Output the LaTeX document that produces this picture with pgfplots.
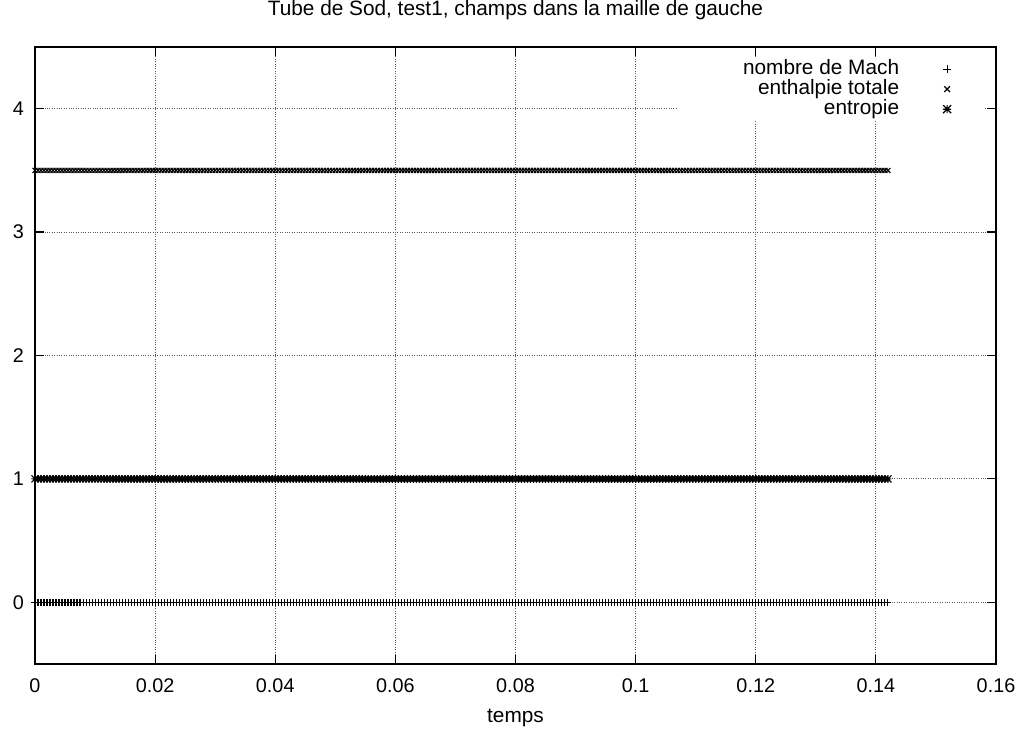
\documentclass[border=0pt]{standalone}
\usepackage{pgfplots}
\pgfplotsset{compat=1.18}
\usepackage{pgfplotstable}
\usepackage{fontspec}
\setmainfont{Liberation Sans}
\pgfdeclareplotmark{gpstar}{%
  \pgfpathmoveto{\pgfqpoint{-\pgfplotmarksize}{0pt}}\pgfpathlineto{\pgfqpoint{\pgfplotmarksize}{0pt}}%
  \pgfpathmoveto{\pgfqpoint{0pt}{-\pgfplotmarksize}}\pgfpathlineto{\pgfqpoint{0pt}{\pgfplotmarksize}}%
  \pgfpathmoveto{\pgfqpoint{-\pgfplotmarksize}{-\pgfplotmarksize}}\pgfpathlineto{\pgfqpoint{\pgfplotmarksize}{\pgfplotmarksize}}%
  \pgfpathmoveto{\pgfqpoint{-\pgfplotmarksize}{\pgfplotmarksize}}\pgfpathlineto{\pgfqpoint{\pgfplotmarksize}{-\pgfplotmarksize}}%
  \pgfusepathqstroke}
\pgfplotstableread[row sep=\\]{
t m h s\\
0.0000 0 3.5 1\\ 0.0005 0 3.5 1\\ 0.0010 0 3.5 1\\ 0.0015 0 3.5 1\\ 0.0020 0 3.5 1\\ 0.0025 0 3.5 1\\ 0.0030 0 3.5 1\\ 0.0035 0 3.5 1\\ 0.0040 0 3.5 1\\ 0.0045 0 3.5 1\\
0.0050 0 3.5 1\\ 0.0055 0 3.5 1\\ 0.0060 0 3.5 1\\ 0.0065 0 3.5 1\\ 0.0070 0 3.5 1\\ 0.0075 0 3.5 1\\ 0.0080 0 3.5 1\\ 0.0085 0 3.5 1\\ 0.0090 0 3.5 1\\ 0.0095 0 3.5 1\\
0.0100 0 3.5 1\\ 0.0105 0 3.5 1\\ 0.0110 0 3.5 1\\ 0.0115 0 3.5 1\\ 0.0120 0 3.5 1\\ 0.0125 0 3.5 1\\ 0.0130 0 3.5 1\\ 0.0135 0 3.5 1\\ 0.0140 0 3.5 1\\ 0.0145 0 3.5 1\\
0.0150 0 3.5 1\\ 0.0155 0 3.5 1\\ 0.0160 0 3.5 1\\ 0.0165 0 3.5 1\\ 0.0170 0 3.5 1\\ 0.0175 0 3.5 1\\ 0.0180 0 3.5 1\\ 0.0185 0 3.5 1\\ 0.0190 0 3.5 1\\ 0.0195 0 3.5 1\\
0.0200 0 3.5 1\\ 0.0205 0 3.5 1\\ 0.0210 0 3.5 1\\ 0.0215 0 3.5 1\\ 0.0220 0 3.5 1\\ 0.0225 0 3.5 1\\ 0.0230 0 3.5 1\\ 0.0235 0 3.5 1\\ 0.0240 0 3.5 1\\ 0.0245 0 3.5 1\\
0.0250 0 3.5 1\\ 0.0255 0 3.5 1\\ 0.0260 0 3.5 1\\ 0.0265 0 3.5 1\\ 0.0270 0 3.5 1\\ 0.0275 0 3.5 1\\ 0.0280 0 3.5 1\\ 0.0285 0 3.5 1\\ 0.0290 0 3.5 1\\ 0.0295 0 3.5 1\\
0.0300 0 3.5 1\\ 0.0305 0 3.5 1\\ 0.0310 0 3.5 1\\ 0.0315 0 3.5 1\\ 0.0320 0 3.5 1\\ 0.0325 0 3.5 1\\ 0.0330 0 3.5 1\\ 0.0335 0 3.5 1\\ 0.0340 0 3.5 1\\ 0.0345 0 3.5 1\\
0.0350 0 3.5 1\\ 0.0355 0 3.5 1\\ 0.0360 0 3.5 1\\ 0.0365 0 3.5 1\\ 0.0370 0 3.5 1\\ 0.0375 0 3.5 1\\ 0.0380 0 3.5 1\\ 0.0385 0 3.5 1\\ 0.0390 0 3.5 1\\ 0.0395 0 3.5 1\\
0.0400 0 3.5 1\\ 0.0405 0 3.5 1\\ 0.0410 0 3.5 1\\ 0.0415 0 3.5 1\\ 0.0420 0 3.5 1\\ 0.0425 0 3.5 1\\ 0.0430 0 3.5 1\\ 0.0435 0 3.5 1\\ 0.0440 0 3.5 1\\ 0.0445 0 3.5 1\\
0.0450 0 3.5 1\\ 0.0455 0 3.5 1\\ 0.0460 0 3.5 1\\ 0.0465 0 3.5 1\\ 0.0470 0 3.5 1\\ 0.0475 0 3.5 1\\ 0.0480 0 3.5 1\\ 0.0485 0 3.5 1\\ 0.0490 0 3.5 1\\ 0.0495 0 3.5 1\\
0.0500 0 3.5 1\\ 0.0505 0 3.5 1\\ 0.0510 0 3.5 1\\ 0.0515 0 3.5 1\\ 0.0520 0 3.5 1\\ 0.0525 0 3.5 1\\ 0.0530 0 3.5 1\\ 0.0535 0 3.5 1\\ 0.0540 0 3.5 1\\ 0.0545 0 3.5 1\\
0.0550 0 3.5 1\\ 0.0555 0 3.5 1\\ 0.0560 0 3.5 1\\ 0.0565 0 3.5 1\\ 0.0570 0 3.5 1\\ 0.0575 0 3.5 1\\ 0.0580 0 3.5 1\\ 0.0585 0 3.5 1\\ 0.0590 0 3.5 1\\ 0.0595 0 3.5 1\\
0.0600 0 3.5 1\\ 0.0605 0 3.5 1\\ 0.0610 0 3.5 1\\ 0.0615 0 3.5 1\\ 0.0620 0 3.5 1\\ 0.0625 0 3.5 1\\ 0.0630 0 3.5 1\\ 0.0635 0 3.5 1\\ 0.0640 0 3.5 1\\ 0.0645 0 3.5 1\\
0.0650 0 3.5 1\\ 0.0655 0 3.5 1\\ 0.0660 0 3.5 1\\ 0.0665 0 3.5 1\\ 0.0670 0 3.5 1\\ 0.0675 0 3.5 1\\ 0.0680 0 3.5 1\\ 0.0685 0 3.5 1\\ 0.0690 0 3.5 1\\ 0.0695 0 3.5 1\\
0.0700 0 3.5 1\\ 0.0705 0 3.5 1\\ 0.0710 0 3.5 1\\ 0.0715 0 3.5 1\\ 0.0720 0 3.5 1\\ 0.0725 0 3.5 1\\ 0.0730 0 3.5 1\\ 0.0735 0 3.5 1\\ 0.0740 0 3.5 1\\ 0.0745 0 3.5 1\\
0.0750 0 3.5 1\\ 0.0755 0 3.5 1\\ 0.0760 0 3.5 1\\ 0.0765 0 3.5 1\\ 0.0770 0 3.5 1\\ 0.0775 0 3.5 1\\ 0.0780 0 3.5 1\\ 0.0785 0 3.5 1\\ 0.0790 0 3.5 1\\ 0.0795 0 3.5 1\\
0.0800 0 3.5 1\\ 0.0805 0 3.5 1\\ 0.0810 0 3.5 1\\ 0.0815 0 3.5 1\\ 0.0820 0 3.5 1\\ 0.0825 0 3.5 1\\ 0.0830 0 3.5 1\\ 0.0835 0 3.5 1\\ 0.0840 0 3.5 1\\ 0.0845 0 3.5 1\\
0.0850 0 3.5 1\\ 0.0855 0 3.5 1\\ 0.0860 0 3.5 1\\ 0.0865 0 3.5 1\\ 0.0870 0 3.5 1\\ 0.0875 0 3.5 1\\ 0.0880 0 3.5 1\\ 0.0885 0 3.5 1\\ 0.0890 0 3.5 1\\ 0.0895 0 3.5 1\\
0.0900 0 3.5 1\\ 0.0905 0 3.5 1\\ 0.0910 0 3.5 1\\ 0.0915 0 3.5 1\\ 0.0920 0 3.5 1\\ 0.0925 0 3.5 1\\ 0.0930 0 3.5 1\\ 0.0935 0 3.5 1\\ 0.0940 0 3.5 1\\ 0.0945 0 3.5 1\\
0.0950 0 3.5 1\\ 0.0955 0 3.5 1\\ 0.0960 0 3.5 1\\ 0.0965 0 3.5 1\\ 0.0970 0 3.5 1\\ 0.0975 0 3.5 1\\ 0.0980 0 3.5 1\\ 0.0985 0 3.5 1\\ 0.0990 0 3.5 1\\ 0.0995 0 3.5 1\\
0.1000 0 3.5 1\\ 0.1005 0 3.5 1\\ 0.1010 0 3.5 1\\ 0.1015 0 3.5 1\\ 0.1020 0 3.5 1\\ 0.1025 0 3.5 1\\ 0.1030 0 3.5 1\\ 0.1035 0 3.5 1\\ 0.1040 0 3.5 1\\ 0.1045 0 3.5 1\\
0.1050 0 3.5 1\\ 0.1055 0 3.5 1\\ 0.1060 0 3.5 1\\ 0.1065 0 3.5 1\\ 0.1070 0 3.5 1\\ 0.1075 0 3.5 1\\ 0.1080 0 3.5 1\\ 0.1085 0 3.5 1\\ 0.1090 0 3.5 1\\ 0.1095 0 3.5 1\\
0.1100 0 3.5 1\\ 0.1105 0 3.5 1\\ 0.1110 0 3.5 1\\ 0.1115 0 3.5 1\\ 0.1120 0 3.5 1\\ 0.1125 0 3.5 1\\ 0.1130 0 3.5 1\\ 0.1135 0 3.5 1\\ 0.1140 0 3.5 1\\ 0.1145 0 3.5 1\\
0.1150 0 3.5 1\\ 0.1155 0 3.5 1\\ 0.1160 0 3.5 1\\ 0.1165 0 3.5 1\\ 0.1170 0 3.5 1\\ 0.1175 0 3.5 1\\ 0.1180 0 3.5 1\\ 0.1185 0 3.5 1\\ 0.1190 0 3.5 1\\ 0.1195 0 3.5 1\\
0.1200 0 3.5 1\\ 0.1205 0 3.5 1\\ 0.1210 0 3.5 1\\ 0.1215 0 3.5 1\\ 0.1220 0 3.5 1\\ 0.1225 0 3.5 1\\ 0.1230 0 3.5 1\\ 0.1235 0 3.5 1\\ 0.1240 0 3.5 1\\ 0.1245 0 3.5 1\\
0.1250 0 3.5 1\\ 0.1255 0 3.5 1\\ 0.1260 0 3.5 1\\ 0.1265 0 3.5 1\\ 0.1270 0 3.5 1\\ 0.1275 0 3.5 1\\ 0.1280 0 3.5 1\\ 0.1285 0 3.5 1\\ 0.1290 0 3.5 1\\ 0.1295 0 3.5 1\\
0.1300 0 3.5 1\\ 0.1305 0 3.5 1\\ 0.1310 0 3.5 1\\ 0.1315 0 3.5 1\\ 0.1320 0 3.5 1\\ 0.1325 0 3.5 1\\ 0.1330 0 3.5 1\\ 0.1335 0 3.5 1\\ 0.1340 0 3.5 1\\ 0.1345 0 3.5 1\\
0.1350 0 3.5 1\\ 0.1355 0 3.5 1\\ 0.1360 0 3.5 1\\ 0.1365 0 3.5 1\\ 0.1370 0 3.5 1\\ 0.1375 0 3.5 1\\ 0.1380 0 3.5 1\\ 0.1385 0 3.5 1\\ 0.1390 0 3.5 1\\ 0.1395 0 3.5 1\\
0.1400 0 3.5 1\\ 0.1405 0 3.5 1\\ 0.1410 0 3.5 1\\ 0.1415 0 3.5 1\\ 0.1420 0 3.5 1\\
}\data
\begin{document}
\begin{tikzpicture}
\useasboundingbox (-35pt,-69pt) rectangle (992pt,664pt);
\begin{axis}[
  at={(0pt,0pt)}, anchor=south west,
  scale only axis, width=961pt, height=617pt,
  xmin=0, xmax=0.16, ymin=-0.5, ymax=4.5,
  xtick={0,0.02,0.04,0.06,0.08,0.1,0.12,0.14,0.16},
  xticklabels={0,0.02,0.04,0.06,0.08,0.1,0.12,0.14,0.16},
  ytick={0,1,2,3,4},
  yticklabels={0,1,2,3,4},
  scaled x ticks=false,
  grid=major,
  major grid style={dotted, black!65, line width=0.8pt},
  axis line style={line width=1.2pt},
  tick style={black, line width=1.2pt},
  major tick length=9pt,
  tick label style={font=\fontsize{19.8}{24}\selectfont},
  xticklabel style={anchor=base, yshift=-28pt, inner sep=0pt},
  yticklabel style={anchor=east, xshift=-11pt, inner sep=0pt},
  title={Tube de Sod, test1, champs dans la maille de gauche},
  title style={font=\fontsize{20.8}{24}\selectfont, at={(0.5,1)}, anchor=base, yshift=25pt, inner sep=0pt},
  xlabel={temps},
  xlabel style={font=\fontsize{20.8}{24}\selectfont, at={(axis description cs:0.5,0)}, anchor=base, yshift=-58pt, inner sep=0pt},
  /pgf/number format/assume math mode=true,
  legend cell align=right,
  legend plot pos=right,
  legend image code/.code={\path[draw=none,fill=none] (0pt,-4pt) rectangle (52pt,4pt); \draw[#1, mark size=4pt, mark options={line width=1.2pt, black}] plot coordinates {(48pt,0pt)};},
  legend style={font=\fontsize{20.8}{24}\selectfont, draw=none, fill=none, inner sep=0pt,
    row sep=2pt, column sep=0pt, nodes={inner sep=0pt, text height=14pt, text depth=4pt},
    at={(0.9535,0.9789)}, anchor=north east},
]
\fill[white] (axis cs:0.10705,3.91) rectangle (axis cs:0.1582,4.419);
\addplot[only marks, mark=+, mark size=3.5pt, mark options={line width=1.1pt, black}] table[x=t, y=m] {\data};
\addlegendentry{nombre de Mach}
\addplot[only marks, mark=x, mark size=3.5pt, mark options={line width=1.1pt, black}] table[x=t, y=h] {\data};
\addlegendentry{enthalpie totale}
\addplot[only marks, mark=gpstar, mark size=3.5pt, mark options={line width=1.1pt, black}] table[x=t, y=s] {\data};
\addlegendentry{entropie}
\end{axis}
\end{tikzpicture}
\end{document}
